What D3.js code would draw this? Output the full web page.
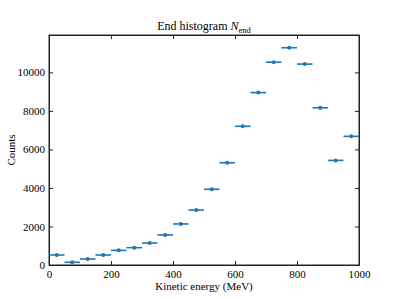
<!DOCTYPE html>
<html>
<head>
<meta charset="utf-8">
<script src="https://cdn.jsdelivr.net/npm/d3@7"></script>
<style>
  body { margin: 0; background: #fff; }
  svg text { font-family: "Liberation Serif", "DejaVu Serif", serif; fill: #000; }
  .axis path, .axis line { stroke: #222; }
</style>
</head>
<body>
<svg id="chart"></svg>
<script>
// bin centres (MeV) and counts per bin
const binCenters = [25, 75, 125, 175, 225, 275, 325, 375, 425, 475,
                    525, 575, 625, 675, 725, 775, 825, 875, 925, 975];
const counts = [520, 140, 310, 520, 760, 900, 1140, 1560, 2130, 2850,
                3930, 5310, 7200, 8950, 10530, 11280, 10430, 8160, 5430, 6680];
const binWidth = 50;
const xTicks = [0, 200, 400, 600, 800, 1000];
const yTicks = [0, 2000, 4000, 6000, 8000, 10000];

const W = 399, H = 299;
const margin = { left: 49, right: 40, top: 35, bottom: 34 };

const svg = d3.select('#chart').attr('width', W).attr('height', H);

const x = d3.scaleLinear().domain([0, 1000]).range([margin.left, W - margin.right]);
const y = d3.scaleLinear().domain([0, 11940]).range([H - margin.bottom, margin.top]);

const color = '#1f77b4';
const fmt = d3.format('d');

// axes, ticks pointing inward on all four sides
svg.append('g')
  .attr('class', 'x axis')
  .attr('transform', 'translate(0,' + (H - margin.bottom) + ')')
  .call(d3.axisBottom(x).tickValues(xTicks).tickFormat(fmt).tickSize(-4).tickPadding(5).tickSizeOuter(0));

svg.append('g')
  .attr('class', 'x axis top')
  .attr('transform', 'translate(0,' + margin.top + ')')
  .call(d3.axisTop(x).tickValues(xTicks).tickSize(-4).tickFormat('').tickSizeOuter(0));

svg.append('g')
  .attr('class', 'y axis')
  .attr('transform', 'translate(' + margin.left + ',0)')
  .call(d3.axisLeft(y).tickValues(yTicks).tickFormat(fmt).tickSize(-4).tickPadding(4).tickSizeOuter(0));

svg.append('g')
  .attr('class', 'y axis right')
  .attr('transform', 'translate(' + (W - margin.right) + ',0)')
  .call(d3.axisRight(y).tickValues(yTicks).tickSize(-4).tickFormat('').tickSizeOuter(0));

svg.selectAll('.axis')
  .attr('font-family', '"Liberation Serif", serif')
  .attr('font-size', 11);

// frame
svg.append('rect')
  .attr('x', margin.left)
  .attr('y', margin.top)
  .attr('width', W - margin.left - margin.right)
  .attr('height', H - margin.top - margin.bottom)
  .attr('fill', 'none')
  .attr('stroke', '#222')
  .attr('stroke-width', 1);

// horizontal error bars (bin width)
const data = binCenters.map(function(c, i) {
  return { c: c, n: counts[i] };
});

svg.selectAll('.errbar')
  .data(data)
  .enter()
  .append('line')
  .attr('class', 'errbar')
  .attr('x1', function(d) { return x(d.c - binWidth / 2); })
  .attr('x2', function(d) { return x(d.c + binWidth / 2); })
  .attr('y1', function(d) { return y(d.n); })
  .attr('y2', function(d) { return y(d.n); })
  .attr('stroke', color)
  .attr('stroke-width', 1.6);

svg.selectAll('.pt')
  .data(data)
  .enter()
  .append('circle')
  .attr('class', 'pt')
  .attr('cx', function(d) { return x(d.c); })
  .attr('cy', function(d) { return y(d.n); })
  .attr('r', 2)
  .attr('fill', color);

// title with italic N and roman subscript
const title = svg.append('text')
  .attr('x', (margin.left + W - margin.right) / 2)
  .attr('y', 30)
  .attr('text-anchor', 'middle')
  .style('font-size', '12px');
title.append('tspan').text('End histogram ');
title.append('tspan').style('font-style', 'italic').text('N');
title.append('tspan').attr('dy', 2.5).style('font-size', '8.5px').text('end');

svg.append('text')
  .attr('x', (margin.left + W - margin.right) / 2)
  .attr('y', 290)
  .attr('text-anchor', 'middle')
  .style('font-size', '11px')
  .text('Kinetic energy (MeV)');

svg.append('text')
  .attr('transform', 'translate(15,' + ((margin.top + H - margin.bottom) / 2) + ') rotate(-90)')
  .attr('text-anchor', 'middle')
  .style('font-size', '11px')
  .text('Counts');
</script>
</body>
</html>
